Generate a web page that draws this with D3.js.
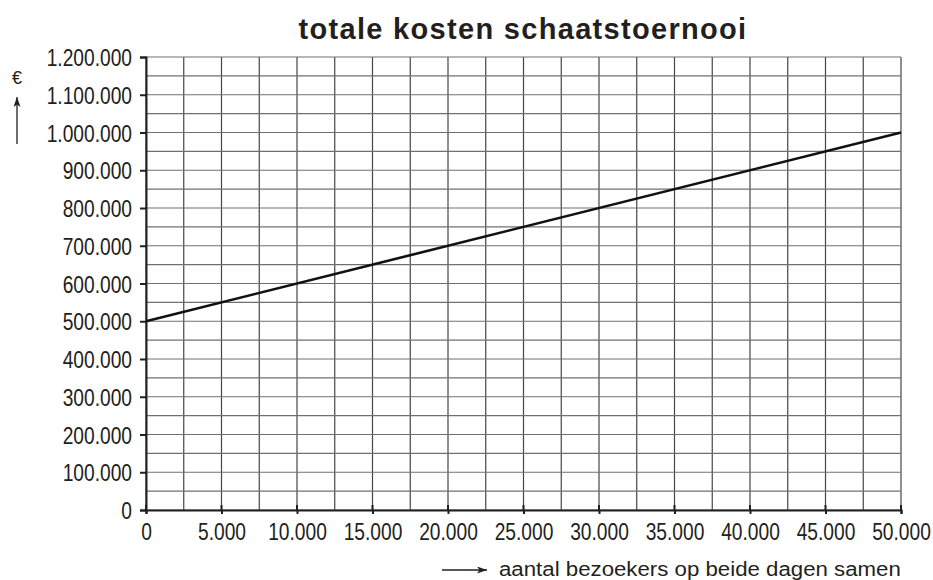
<!DOCTYPE html>
<html>
<head>
<meta charset="utf-8">
<script src="https://cdn.jsdelivr.net/npm/d3@7"></script>
<style>
  body { margin: 0; background: #fff; }
  text { font-family: "Liberation Sans", Arial, sans-serif; fill: #231f20; }
</style>
</head>
<body>
<script>
// data
var visitors = [0, 50000];
var costs = [500000, 1000000];
var xTicks = d3.range(0, 50001, 5000);
var yTicks = d3.range(0, 1200001, 100000);
var xGrid = d3.range(0, 50001, 2500);
var yGrid = d3.range(0, 1200001, 50000);

var w = 933, h = 580;
var margin = {left: 146, right: 32, top: 57, bottom: 70};
var squeeze = 0.8; // labels in the picture use a narrow face

var svg = d3.select('body').append('svg')
            .attr('width', w)
            .attr('height', h);

var x = d3.scaleLinear().domain([0, 50000]).range([margin.left, w - margin.right]);
var y = d3.scaleLinear().domain([0, 1200000]).range([h - margin.bottom, margin.top]);

var fmt = function(d){
  return d3.format(',')(d).replace(/,/g, '.');
};

// grid
svg.append('g').selectAll('line')
   .data(xGrid).enter().append('line')
   .attr('x1', function(d){ return x(d); })
   .attr('x2', function(d){ return x(d); })
   .attr('y1', y(0)).attr('y2', y(1200000))
   .attr('stroke', '#454545').attr('stroke-width', 1.2);

svg.append('g').selectAll('line')
   .data(yGrid).enter().append('line')
   .attr('y1', function(d){ return y(d); })
   .attr('y2', function(d){ return y(d); })
   .attr('x1', x(0)).attr('x2', x(50000))
   .attr('stroke', '#707070').attr('stroke-width', 1.2);

// axes
var yAxis = svg.append('g')
   .attr('transform', 'translate(' + x(0) + ',0)')
   .call(d3.axisLeft(y).tickValues(yTicks).tickSize(6).tickFormat(fmt));
var xAxis = svg.append('g')
   .attr('transform', 'translate(0,' + y(0) + ')')
   .call(d3.axisBottom(x).tickValues(xTicks).tickSize(4).tickFormat(fmt));

[yAxis, xAxis].forEach(function(a){
  a.select('.domain').attr('stroke', '#231f20').attr('stroke-width', 2);
  a.selectAll('.tick line').attr('stroke', '#231f20').attr('stroke-width', 2);
  a.selectAll('.tick text').attr('font-size', '24px').attr('fill', '#231f20');
});
yAxis.selectAll('.tick text')
     .attr('x', 0).attr('dy', '0.36em')
     .attr('transform', 'translate(-14,0) scale(' + squeeze + ',1)');
xAxis.selectAll('.tick text')
     .attr('y', 0).attr('dy', 0)
     .attr('transform', 'translate(0,30) scale(' + squeeze + ',1)');

// small upward part of x ticks
svg.append('g').selectAll('line')
   .data(xTicks).enter().append('line')
   .attr('x1', function(d){ return x(d); })
   .attr('x2', function(d){ return x(d); })
   .attr('y1', y(0)).attr('y2', y(0) - 5)
   .attr('stroke', '#231f20').attr('stroke-width', 2);

// cost line
var line = d3.line()
             .x(function(d, i){ return x(visitors[i]); })
             .y(function(d){ return y(d); });
svg.append('path')
   .datum(costs)
   .attr('d', line)
   .attr('fill', 'none')
   .attr('stroke', '#111')
   .attr('stroke-width', 2.6);

// title, stretched to the width it has in the picture
var title = svg.append('text')
   .attr('x', 523).attr('y', 39)
   .attr('text-anchor', 'middle')
   .style('font-weight', 'bold')
   .style('font-size', '29px')
   .attr('fill', '#000')
   .text('totale kosten schaatstoernooi');
var tl = title.node().getComputedTextLength();
title.style('letter-spacing', Math.max(0, (449 - tl) / 29) + 'px');

// y label with arrow
svg.append('text')
   .attr('x', 17).attr('y', 84)
   .attr('text-anchor', 'middle')
   .style('font-size', '18px')
   .text('€');

svg.append('defs').append('marker')
   .attr('id', 'arr').attr('viewBox', '0 0 10 7')
   .attr('refX', 10).attr('refY', 3.5)
   .attr('markerWidth', 10).attr('markerHeight', 7)
   .attr('markerUnits', 'userSpaceOnUse')
   .attr('orient', 'auto')
   .append('path').attr('d', 'M0,0 L10,3.5 L0,7 L2.5,3.5 z').attr('fill', '#231f20');

svg.append('line')
   .attr('x1', 17).attr('x2', 17)
   .attr('y1', 144).attr('y2', 97)
   .attr('stroke', '#231f20').attr('stroke-width', 1.3)
   .attr('marker-end', 'url(#arr)');

// x label with arrow
svg.append('line')
   .attr('x1', 442).attr('x2', 487)
   .attr('y1', 570).attr('y2', 570)
   .attr('stroke', '#231f20').attr('stroke-width', 1.3)
   .attr('marker-end', 'url(#arr)');

var xt = svg.append('text')
   .attr('x', 0).attr('y', 0)
   .attr('text-anchor', 'start')
   .style('font-size', '21px')
   .text('aantal bezoekers op beide dagen samen');
var xl = xt.node().getComputedTextLength();
xt.attr('transform', 'translate(499,576) scale(' + (402 / xl) + ',1)');
</script>
</body>
</html>
